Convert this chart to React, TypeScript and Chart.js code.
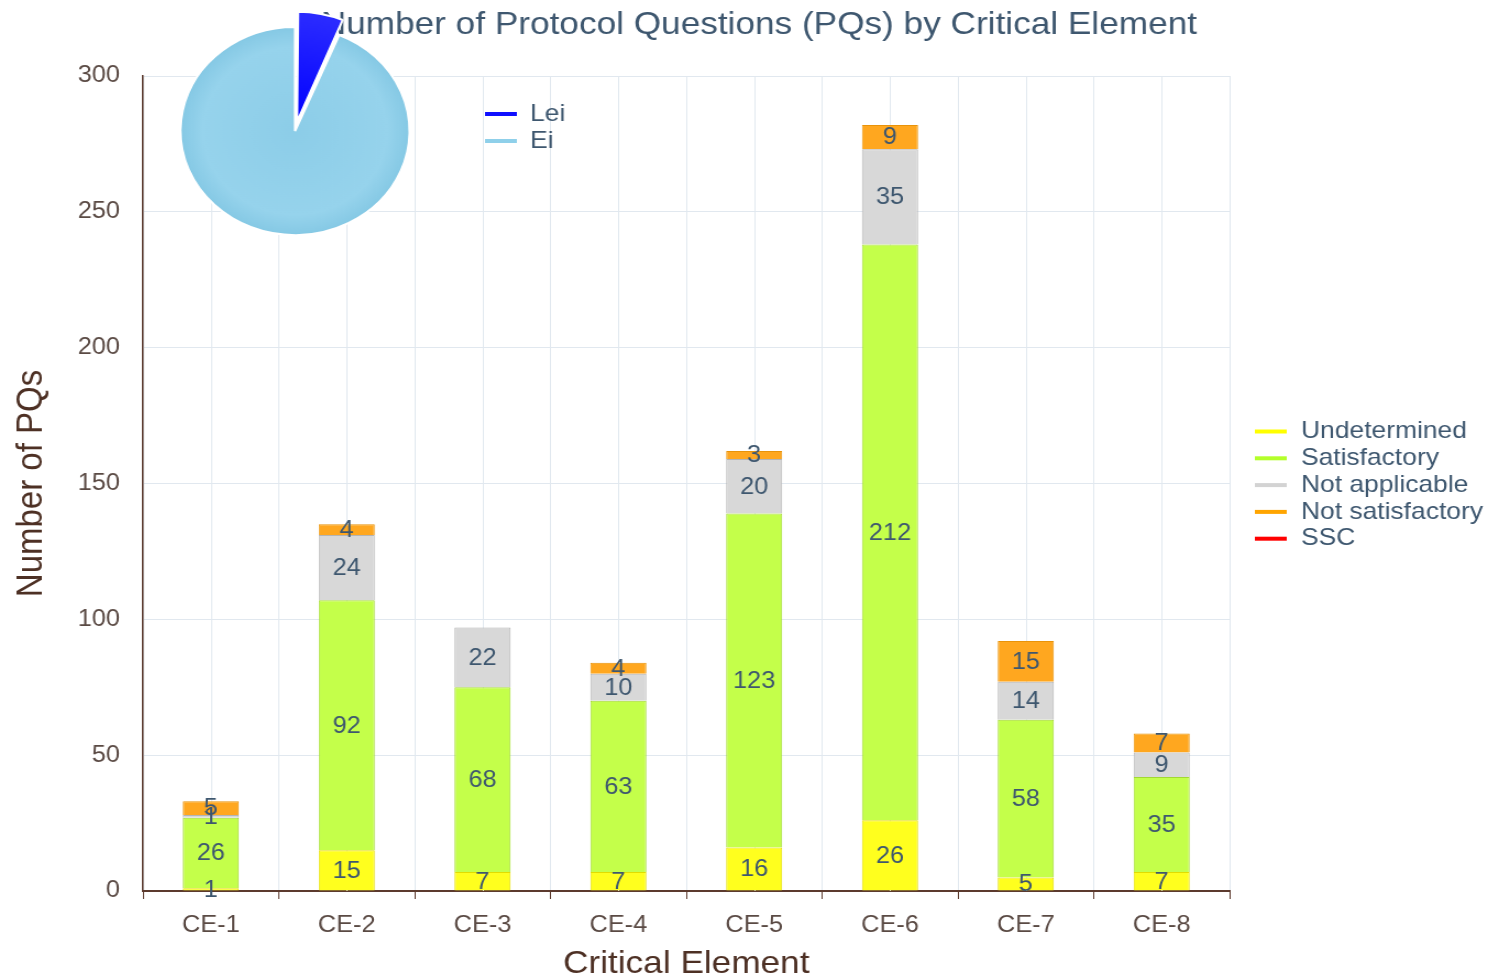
import React, { useEffect, useRef } from "react";
import { Chart, registerables } from "chart.js";

Chart.register(...registerables);

// ---------- data ----------
const categories = ["CE-1", "CE-2", "CE-3", "CE-4", "CE-5", "CE-6", "CE-7", "CE-8"];
const undetermined = [1, 15, 7, 7, 16, 26, 5, 7];
const satisfactory = [26, 92, 68, 63, 123, 212, 58, 35];
const notApplicable = [1, 24, 22, 10, 20, 35, 14, 9];
const notSatisfactory = [5, 4, 0, 4, 3, 9, 15, 7];
const ssc = [0, 0, 0, 0, 0, 0, 0, 0];
const seriesNames = ["Undetermined", "Satisfactory", "Not applicable", "Not satisfactory", "SSC"];
const yMin = 0;
const yMax = 300;
const yStep = 50;
const pieLabels = ["Lei", "Ei"];
const pieValues = [6.3, 93.7];
const titleText = "Number of Protocol Questions (PQs) by Critical Element";
const yTitle = "Number of PQs";
const xTitle = "Critical Element";

// ---------- styles ----------
const SX = 1.1; // horizontal stretch of the reference
const W = 1488;
const H = 980;
const CW = Math.round(W / SX);
const FONT = '"Liberation Sans", Arial, Helvetica, sans-serif';
const fills = ["#ffff1e", "#c4ff4a", "#d8d8d8", "#ffa71f", "#ff0000"];
const borders = ["#e2dc00", "#a2d832", "#b4b4b4", "#e8930a", "#cc0000"];
const legendColors = ["#ffff00", "#b4ff2a", "#d3d3d3", "#ffa500", "#ff0000"];
const pieColors = ["#1010ff", "#8fd0ea"];
const textBlue = "#3e576f";
const brown = "#4d3024";
const axisBrown = "#5c3a2e";
const gridColor = "#e1e8ef";

const seriesData = [undetermined, satisfactory, notApplicable, notSatisfactory, ssc];

const centerGridPlugin = {
  id: "centerGrid",
  beforeDatasetsDraw(chart: any) {
    const { ctx, chartArea, scales } = chart;
    const xs = scales.x;
    ctx.save();
    ctx.strokeStyle = gridColor;
    ctx.lineWidth = 1;
    categories.forEach((_, i) => {
      const x = Math.round(xs.getPixelForValue(i)) + 0.5;
      ctx.beginPath();
      ctx.moveTo(x, chartArea.top);
      ctx.lineTo(x, chartArea.bottom);
      ctx.stroke();
    });
    ctx.restore();
  },
};

const valueLabelPlugin = {
  id: "valueLabels",
  afterDatasetsDraw(chart: any) {
    const { ctx } = chart;
    ctx.save();
    ctx.font = `23px ${FONT}`;
    ctx.fillStyle = textBlue;
    ctx.textAlign = "center";
    ctx.textBaseline = "middle";
    chart.data.datasets.forEach((ds: any, i: number) => {
      const meta = chart.getDatasetMeta(i);
      meta.data.forEach((el: any, j: number) => {
        const v = ds.data[j];
        if (!v) return;
        const p = el.getProps(["x", "y", "base"], true);
        ctx.fillText(String(v), p.x, (p.y + p.base) / 2 + 1);
      });
    });
    ctx.restore();
  },
};

const decorPlugin = {
  id: "decor",
  afterDraw(chart: any) {
    const { ctx } = chart;
    ctx.save();
    // title
    ctx.font = `32px ${FONT}`;
    ctx.fillStyle = textBlue;
    ctx.textAlign = "center";
    ctx.textBaseline = "middle";
    ctx.fillText(titleText, 690, 25);
    // series legend
    ctx.textAlign = "left";
    ctx.font = `24px ${FONT}`;
    seriesNames.forEach((name, i) => {
      const y = 431.5 + i * 26.8;
      ctx.fillStyle = legendColors[i];
      ctx.fillRect(1141, y - 2, 29, 4);
      ctx.fillStyle = textBlue;
      ctx.fillText(name, 1183, y);
    });
    // pie legend
    pieLabels.forEach((name, i) => {
      const y = 114 + i * 27;
      ctx.fillStyle = pieColors[i];
      ctx.fillRect(441, y - 2, 29, 4);
      ctx.fillStyle = textBlue;
      ctx.fillText(name, 482, y);
    });
    ctx.restore();
  },
};

export default function App() {
  const barRef = useRef<HTMLCanvasElement | null>(null);
  const pieRef = useRef<HTMLCanvasElement | null>(null);

  useEffect(() => {
    if (!barRef.current || !pieRef.current) return;
    const bar = new Chart(barRef.current, {
      type: "bar",
      data: {
        labels: categories,
        datasets: seriesData.map((d, i) => ({
          label: seriesNames[i],
          data: d,
          backgroundColor: fills[i],
          borderColor: borders[i],
          borderWidth: 1,
          barPercentage: 0.413,
          categoryPercentage: 1,
        })),
      },
      options: {
        responsive: false,
        animation: false,
        devicePixelRatio: 1,
        layout: { padding: { top: 76, right: CW - 1118, left: 0, bottom: 0 } },
        plugins: { legend: { display: false }, tooltip: { enabled: false }, title: { display: false } },
        scales: {
          x: {
            stacked: true,
            grid: { color: gridColor, tickColor: axisBrown, tickLength: 8, offset: true, lineWidth: 1 },
            border: { color: axisBrown, width: 2 },
            ticks: { color: "#5a4a44", font: { family: FONT, size: 23 }, padding: 13 },
            title: {
              display: true,
              text: xTitle,
              color: brown,
              font: { family: FONT, size: 32, lineHeight: 1.0 },
              padding: { top: 0, bottom: 0 },
            },
            afterFit(scale: any) {
              scale.height = 89;
            },
          },
          y: {
            stacked: true,
            min: yMin,
            max: yMax,
            ticks: { stepSize: yStep, color: "#5a4a44", font: { family: FONT, size: 23 }, padding: 21 },
            grid: { color: gridColor, drawTicks: false },
            border: { color: axisBrown, width: 1.5 },
            title: {
              display: true,
              text: yTitle,
              color: brown,
              font: { family: FONT, size: 33, lineHeight: 1.1 },
              padding: { top: 11, bottom: 0 },
            },
            afterFit(scale: any) {
              scale.width = 130;
            },
          },
        },
      },
      plugins: [centerGridPlugin, valueLabelPlugin, decorPlugin],
    } as any);

    const pie = new Chart(pieRef.current, {
      type: "pie",
      data: {
        labels: pieLabels,
        datasets: [
          {
            data: pieValues,
            backgroundColor: (c: any) => {
              const chart = c.chart;
              const area = chart.chartArea;
              if (!area) return pieColors[c.dataIndex];
              const cx = (area.left + area.right) / 2;
              const cy = (area.top + area.bottom) / 2;
              const g = chart.ctx.createRadialGradient(cx, cy, 0, cx, cy, 105);
              if (c.dataIndex === 0) {
                g.addColorStop(0, "#0000ff");
                g.addColorStop(1, "#2a2aff");
              } else {
                g.addColorStop(0, "#8ccde8");
                g.addColorStop(0.8, "#96d3ec");
                g.addColorStop(1, "#84c8e4");
              }
              return g;
            },
            borderColor: "#ffffff",
            borderWidth: 2,
            offset: [38, 0],
            radius: 104,
            clip: false,
          } as any,
        ],
      },
      options: {
        responsive: false,
        animation: false,
        devicePixelRatio: 1,
        layout: { padding: { top: 12 } },
        plugins: { legend: { display: false }, tooltip: { enabled: false } },
      },
    } as any);

    return () => {
      bar.destroy();
      pie.destroy();
    };
  }, []);

  return (
    <div style={{ position: "fixed", left: 0, top: 0, width: W, height: H, background: "#ffffff" }}>
      <canvas
        ref={barRef}
        width={CW}
        height={H}
        style={{ position: "absolute", left: 0, top: 0, width: W + "px", height: H + "px" }}
      />
      <canvas
        ref={pieRef}
        width={227}
        height={250}
        style={{ position: "absolute", left: 170, top: 0, width: "250px", height: "250px" }}
      />
    </div>
  );
}
